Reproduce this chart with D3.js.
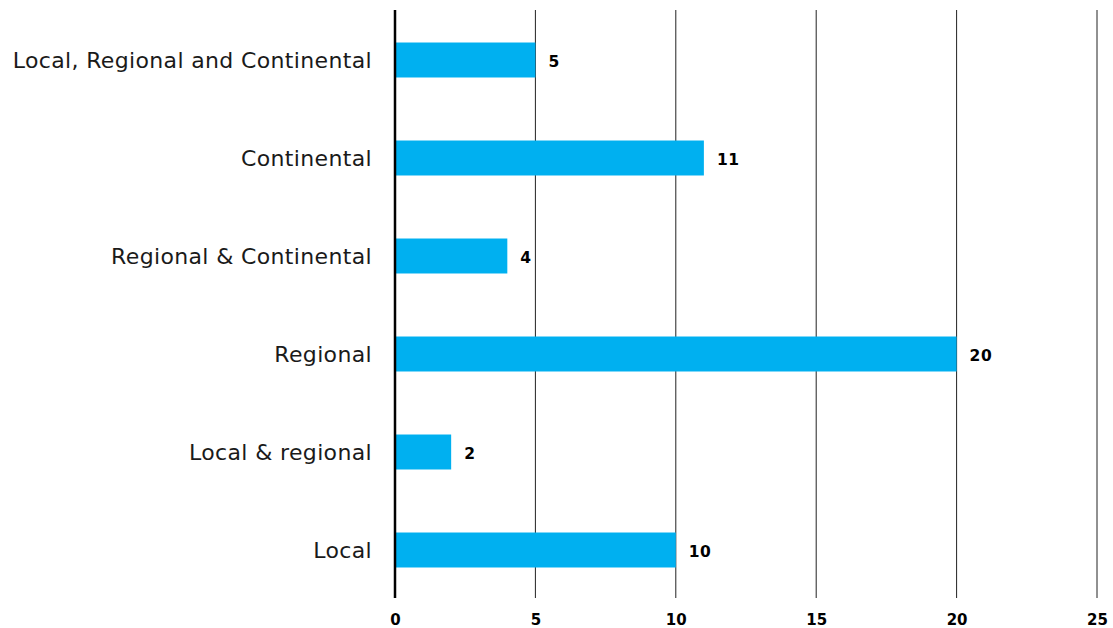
<!DOCTYPE html>
<html lang="en">
<head>
<meta charset="UTF-8">
<script src="https://cdn.jsdelivr.net/npm/d3@7/dist/d3.min.js"></script>
<title>Chart</title>
<style>
  body { margin: 0; background: #fff; }
  svg { display: block; }
</style>
</head>
<body>
<script>
    // categories from top to bottom
    let categories = ["Local, Regional and Continental", "Continental", "Regional & Continental", "Regional", "Local & regional", "Local"];
    let values = [5, 11, 4, 20, 2, 10];
    let xTicks = [0, 5, 10, 15, 20, 25];

    let width = 1113, height = 628;
    let plotLeft = 395, plotRight = 1097, plotTop = 10, plotBottom = 598;

    let svg = d3.select("body").append("svg")
        .attr("width", width)
        .attr("height", height);

    let x = d3.scaleLinear().domain([0, 25]).range([plotLeft, plotRight]);
    let y = d3.scaleBand().domain(categories).range([plotTop + 1, plotBottom + 1])
        .paddingInner(0.643).paddingOuter(0.3215);

    // gridlines
    svg.append("g").selectAll("line")
        .data(xTicks.filter(d => d > 0))
        .enter().append("line")
        .attr("x1", d => x(d)).attr("x2", d => x(d))
        .attr("y1", plotTop).attr("y2", plotBottom)
        .attr("stroke", "#222")
        .attr("stroke-width", 1);

    // bars
    svg.append("g").selectAll("rect")
        .data(values)
        .enter().append("rect")
        .attr("x", x(0))
        .attr("y", (d, i) => y(categories[i]))
        .attr("width", d => x(d) - x(0))
        .attr("height", y.bandwidth())
        .attr("fill", "#00B0F0");

    // value labels
    svg.append("g").selectAll("text")
        .data(values)
        .enter().append("text")
        .attr("x", d => x(d) + 13)
        .attr("y", (d, i) => y(categories[i]) + y.bandwidth() / 2 + 1)
        .attr("dy", "0.36em")
        .attr("font-family", "DejaVu Sans, Verdana, sans-serif")
        .attr("font-weight", "bold")
        .attr("font-size", 15.5)
        .attr("letter-spacing", 0.5)
        .attr("fill", "#000")
        .text(d => d);

    // x axis ticks
    let xAxis = d3.axisBottom(x).tickValues(xTicks).tickSize(0).tickPadding(0);
    let gx = svg.append("g")
        .attr("transform", "translate(0," + 614 + ")")
        .call(xAxis);
    gx.select(".domain").remove();
    gx.selectAll("text")
        .attr("font-family", "DejaVu Sans, Verdana, sans-serif")
        .attr("font-weight", "bold")
        .attr("font-size", 15)
        .attr("fill", "#000");

    // y axis labels
    let yAxis = d3.axisLeft(y).tickSize(0).tickPadding(23);
    let gy = svg.append("g")
        .attr("transform", "translate(" + x(0) + ",0.5)")
        .call(yAxis);
    gy.select(".domain").remove();
    gy.selectAll("text")
        .attr("font-family", "DejaVu Sans, Verdana, sans-serif")
        .attr("font-size", 22)
        .attr("letter-spacing", 0.35)
        .attr("fill", "#1a1a1a");

    // baseline at zero
    svg.append("line")
        .attr("x1", x(0)).attr("x2", x(0))
        .attr("y1", plotTop).attr("y2", plotBottom)
        .attr("stroke", "#000")
        .attr("stroke-width", 2.5);
</script>
</body>
</html>
